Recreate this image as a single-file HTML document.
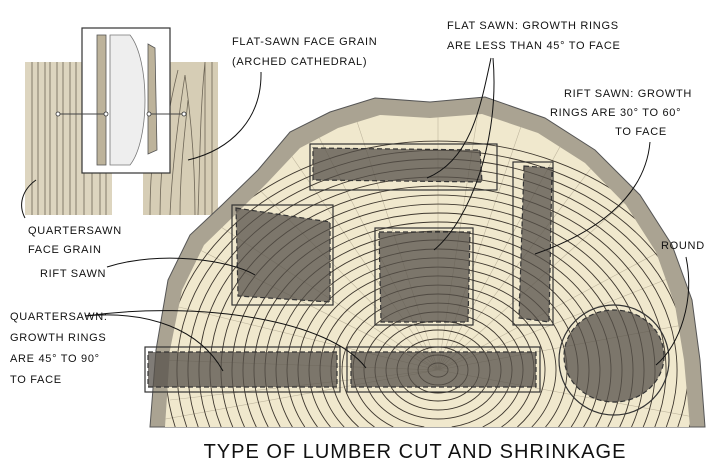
<!DOCTYPE html>
<html><head><meta charset="utf-8"><style>
html,body{margin:0;padding:0;background:#fff;width:716px;height:470px;overflow:hidden}
svg{display:block}
svg text{font-family:"Liberation Sans",sans-serif;fill:#111;font-size:11px;letter-spacing:0.7px}
</style></head><body>
<svg width="716" height="470" viewBox="0 0 716 470" xmlns="http://www.w3.org/2000/svg">
<defs>
<clipPath id="woodc"><path d="M165,427 L170,350 L182,290 L204,245 L235,215 L268,182 L300,148 L338,128 L380,115 L430,118 L482,114 L538,133 L585,163 L626,205 L656,252 L675,305 L684,360 L690,427 Z"/></clipPath>
</defs>
<!-- left grain panels -->
<rect x="25" y="62" width="87" height="153" fill="#ddd5bf"/>
<rect x="143" y="62" width="75" height="153" fill="#d6cdb5"/>
<g stroke="#6d6556" stroke-width="0.8" fill="none">
<path d="M32,62V215M38,62V215M45,62V215M50,62V215M57,62V215M63,62V215M70,62V215M76,62V215M84,62V215M92,62V215M100,62V215M106,62V215"/>
<path d="M150,215 C150,150 160,100 170,65 M160,215 C160,160 168,110 178,70 M170,215 C172,170 178,120 185,75 C190,110 195,160 195,215 M180,215 C180,170 185,130 188,100 M205,215V62 M212,215V62 M198,215 C200,160 200,110 205,62"/>
</g>
<!-- inset -->
<rect x="82" y="28" width="88" height="145" fill="#fff" stroke="#333" stroke-width="1.2"/>
<rect x="97" y="35" width="9" height="130" fill="#bdb39b" stroke="#555" stroke-width="0.8"/>
<path d="M110,35 L130,35 C150,60 150,140 130,165 L110,165 Z" fill="#eee" stroke="#777" stroke-width="0.8"/>
<path d="M148,44 L155,48 L157,150 L148,154 Z" fill="#bdb39b" stroke="#555" stroke-width="0.8"/>
<line x1="58" y1="114" x2="106" y2="114" stroke="#444"/><line x1="149" y1="114" x2="184" y2="114" stroke="#444"/>
<g fill="#fff" stroke="#333" stroke-width="0.8"><circle cx="58" cy="114" r="2"/><circle cx="106" cy="114" r="2"/><circle cx="149" cy="114" r="2"/><circle cx="184" cy="114" r="2"/></g>
<!-- log -->
<path d="M150,427 L156,350 L168,280 L190,235 L222,205 L258,170 L290,132 L330,112 L375,98 L430,102 L485,97 L545,118 L595,150 L640,195 L672,245 L692,300 L700,360 L705,427 Z" fill="#aaa392" stroke="#555" stroke-width="1"/>
<path d="M165,427 L170,350 L182,290 L204,245 L235,215 L268,182 L300,148 L338,128 L380,115 L430,118 L482,114 L538,133 L585,163 L626,205 L656,252 L675,305 L684,360 L690,427 Z" fill="#f0e8cd"/>
<g clip-path="url(#woodc)" stroke="#bfb69e" stroke-width="0.6">
<path d="M438,370L150,300M438,370L180,200M438,370L260,110M438,370L350,100M438,370L438,100M438,370L530,100M438,370L620,130M438,370L700,230M438,370L710,320M438,370L160,360M438,370L160,420M438,370L710,420M438,370L690,270M438,370L220,150M438,370L580,110M438,370L300,100M438,370L480,100M438,370L660,170M438,370L200,250M438,370L170,400"/>
</g>
<g clip-path="url(#woodc)" fill="none" stroke="#3e372e" stroke-width="0.9">
<ellipse cx="438" cy="370" rx="10" ry="7"/><ellipse cx="438" cy="370" rx="20" ry="15"/><ellipse cx="438" cy="370" rx="30" ry="23"/><ellipse cx="438" cy="370" rx="41" ry="31"/><ellipse cx="438" cy="370" rx="52" ry="40"/><ellipse cx="438" cy="370" rx="63" ry="49"/>
<path d="M424.3,427A74,58 0 1 1 451.7,427"/>
<path d="M393.3,427A85,67 0 1 1 482.7,427"/>
<path d="M374.5,427A96,76 0 1 1 501.5,427"/>
<path d="M358.6,427A107,85 0 1 1 517.4,427"/>
<path d="M344.2,427A118,94 0 1 1 531.8,427"/>
<path d="M330.5,427A129,103 0 1 1 545.5,427"/>
<path d="M317.5,427A140,112 0 1 1 558.5,427"/>
<path d="M304.8,427A151,121 0 1 1 571.2,427"/>
<path d="M292.4,427A162,130 0 1 1 583.6,427"/>
<path d="M280.2,427A173,139 0 1 1 595.8,427"/>
<path d="M268.2,427A184,148 0 1 1 607.8,427"/>
<path d="M256.3,427A195,157 0 1 1 619.7,427"/>
<path d="M244.5,427A206,166 0 1 1 631.5,427"/>
<path d="M232.8,427A217,175 0 1 1 643.2,427"/>
<path d="M221.2,427A228,184 0 1 1 654.8,427"/>
<path d="M209.7,427A239,193 0 1 1 666.3,427"/>
<path d="M198.2,427A250,202 0 1 1 677.8,427"/>
<path d="M186.7,427A261,211 0 1 1 689.3,427"/>
<path d="M175.2,427A272,220 0 1 1 700.8,427"/>
<path d="M163.9,427A283,229 0 1 1 712.1,427"/>
</g>
<!-- boards -->
<g stroke="#333" stroke-width="1.2">
<rect x="310" y="144" width="187" height="46" fill="none"/>
<path d="M313,148 L480,150 L482,182 L313,180 Z" fill="#55504a" fill-opacity="0.75" stroke-dasharray="5,3"/>
<rect x="232" y="205" width="101" height="100" fill="none"/>
<path d="M236,208 L330,222 L330,302 L238,296 Z" fill="#55504a" fill-opacity="0.75" stroke-dasharray="5,3"/>
<rect x="375" y="228" width="98" height="97" fill="none"/>
<path d="M379,232 L470,232 L468,322 L381,322 Z" fill="#55504a" fill-opacity="0.75" stroke-dasharray="5,3"/>
<rect x="513" y="162" width="40" height="163" fill="none"/>
<path d="M524,166 L552,168 L549,322 L519,318 Z" fill="#55504a" fill-opacity="0.75" stroke-dasharray="5,3"/>
<rect x="145" y="347" width="195" height="45" fill="none"/>
<rect x="148" y="352" width="189" height="35" fill="#55504a" fill-opacity="0.75" stroke-dasharray="5,3"/>
<rect x="347" y="347" width="193" height="45" fill="none"/>
<rect x="351" y="352" width="185" height="35" fill="#55504a" fill-opacity="0.75" stroke-dasharray="5,3"/>
<circle cx="614" cy="360" r="55" fill="none"/>
<ellipse cx="614" cy="356" rx="50" ry="46" fill="#55504a" fill-opacity="0.75" stroke-dasharray="5,3"/>
</g>
<!-- leaders -->
<g fill="none" stroke="#111" stroke-width="1">
<path d="M261,72 C262,120 230,150 188,160"/>
<path d="M491,58 C480,110 470,160 427,178"/>
<path d="M493,58 C500,140 470,220 434,250"/>
<path d="M650,142 C645,200 590,235 535,254"/>
<path d="M686,257 C695,300 680,345 656,365"/>
<path d="M36,180 C22,190 18,205 25,218"/>
<path d="M107,267 C160,250 230,260 255,275"/>
<path d="M85,316 C150,310 200,330 223,371"/>
<path d="M85,316 C200,300 330,320 366,368"/>
</g>
<!-- labels -->
<text x="232" y="45">FLAT-SAWN FACE GRAIN</text>
<text x="232" y="65">(ARCHED CATHEDRAL)</text>
<text x="447" y="29">FLAT SAWN: GROWTH RINGS</text>
<text x="447" y="49">ARE LESS THAN 45° TO FACE</text>
<text x="564" y="97">RIFT SAWN: GROWTH</text>
<text x="550" y="116">RINGS ARE 30° TO 60°</text>
<text x="641" y="135" text-anchor="middle">TO FACE</text>
<text x="661" y="249">ROUND</text>
<text x="28" y="234">QUARTERSAWN</text>
<text x="28" y="253">FACE GRAIN</text>
<text x="40" y="277">RIFT SAWN</text>
<text x="10" y="320">QUARTERSAWN:</text>
<text x="10" y="341">GROWTH RINGS</text>
<text x="10" y="362">ARE 45° TO 90°</text>
<text x="10" y="383">TO FACE</text>
<text x="415" y="458" text-anchor="middle" style="font-size:20px;letter-spacing:1px">TYPE OF LUMBER CUT AND SHRINKAGE</text>
</svg>
</body></html>
